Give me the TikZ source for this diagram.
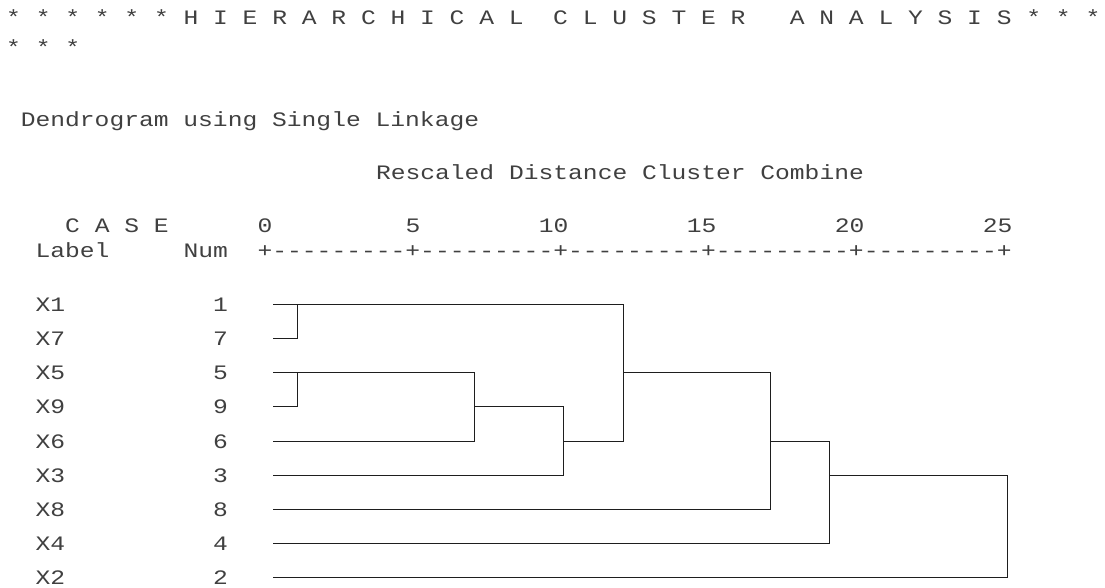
\documentclass[tikz,border=0pt]{standalone}
\usepackage{fontspec}
\setmonofont[FakeStretch=1.2]{Liberation Mono}
\usepackage{tikz}
\usetikzlibrary{positioning,calc}
\definecolor{ink}    {HTML}{1E1E1E}
\definecolor{softink}{HTML}{404040}
\tikzset{
  every node/.style={inner sep=0pt, outer sep=0pt},
  % --- text
  spss/.style = {font=\ttfamily\fontsize{15.4}{20}\selectfont, text=softink},
  hd/.style   = {spss, anchor=base west},
  case/.style = {spss, anchor=west},
  tick/.style = {spss, anchor=base east},
  % --- edges
  link/.style = {draw=ink, line width=1pt},
}
\begin{document}
\begin{tikzpicture}[x=0.75pt,y=-0.75pt]
  \useasboundingbox (0,0) rectangle (1105,588);
  % --- headings
  \node[hd] (title)   at (6.2,25)   {* * * * * * H I E R A R C H I C A L~~C L U S T E R~~~A N A L Y S I S * * *};
  \node[hd] (title2)  at (6.2,55)   {* * *};
  \node[hd] (method)  at (20.8,127) {Dendrogram using Single Linkage};
  \node[hd] (scale)   at (376,180)  {Rescaled Distance Cluster Combine};
  \node[hd] (casehd)  at (65.2,232) {C A S E};
  \node[hd] (labelhd) at (35.6,257) {Label};
  \node[hd] (numhd)   at (183.6,257){Num};
  \node[hd] (axis)    at (257.6,257){+---------+---------+---------+---------+---------+};
  \foreach \v [count=\i from 0] in {0,5,10,15,20,25}
    \node[tick] (t\v) at (272.4+148*\i,232) {\v};
  % --- cases, in dendrogram order
  \foreach \c/\y in {1/304.5,7/338.5,5/372.5,9/406.5,6/441.5,3/475.5,8/509.5,4/543.5,2/577.5} {
    \node[case] (x\c) at (35.6,\y)  {X\c};
    \node[case] (n\c) at (213.2,\y) {\c};
    \coordinate (c\c) at (273,\y);
  }
  % --- merge points
  \coordinate (m17)  at (297.5,304.5);
  \coordinate (m59)  at (297.5,372.5);
  \coordinate (m596) at (474.5,406.5);
  \coordinate (m3)   at (563.5,441.5);
  \coordinate (m1a)  at (623.5,372.5);
  \coordinate (m8)   at (770.5,441.5);
  \coordinate (m4)   at (829.5,475.5);
  \coordinate (mall) at (1007.5,509.5);
  \draw[link] (c1)   -| (m17)  |- (c7);
  \draw[link] (c5)   -| (m59)  |- (c9);
  \draw[link] (m59)  -| (m596) |- (c6);
  \draw[link] (m596) -| (m3)   |- (c3);
  \draw[link] (m17)  -| (m1a)  |- (m3);
  \draw[link] (m1a)  -| (m8)   |- (c8);
  \draw[link] (m8)   -| (m4)   |- (c4);
  \draw[link] (m4)   -| (mall) |- (c2);
\end{tikzpicture}
\end{document}
